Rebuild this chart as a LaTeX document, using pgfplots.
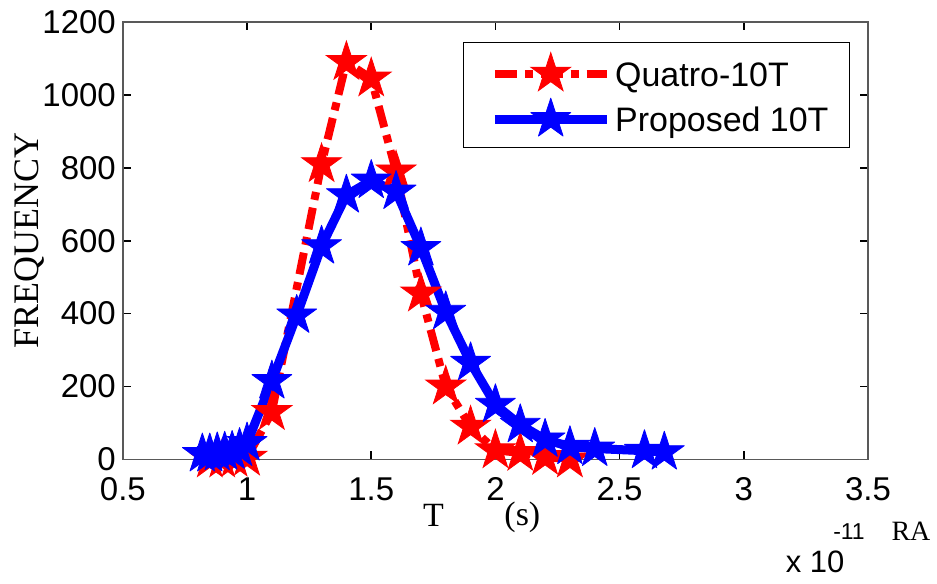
\documentclass[border=0pt]{standalone}
\usepackage{fontspec}
\setmainfont{Liberation Sans}
\newfontfamily\serif{Liberation Serif}
\newfontfamily\sans{Liberation Sans}
\usepackage{pgfplots}
\pgfplotsset{compat=1.18}
\usetikzlibrary{calc}

% filled five-pointed star, like MATLAB's pentagram marker
\pgfdeclareplotmark{pentagram}{%
  \pgfpathmoveto{\pgfpointpolar{90}{\pgfplotmarksize}}%
  \pgfpathlineto{\pgfpointpolar{126}{0.382\pgfplotmarksize}}%
  \pgfpathlineto{\pgfpointpolar{162}{\pgfplotmarksize}}%
  \pgfpathlineto{\pgfpointpolar{198}{0.382\pgfplotmarksize}}%
  \pgfpathlineto{\pgfpointpolar{234}{\pgfplotmarksize}}%
  \pgfpathlineto{\pgfpointpolar{270}{0.382\pgfplotmarksize}}%
  \pgfpathlineto{\pgfpointpolar{306}{\pgfplotmarksize}}%
  \pgfpathlineto{\pgfpointpolar{342}{0.382\pgfplotmarksize}}%
  \pgfpathlineto{\pgfpointpolar{18}{\pgfplotmarksize}}%
  \pgfpathlineto{\pgfpointpolar{54}{0.382\pgfplotmarksize}}%
  \pgfpathclose
  \pgfusepathqfillstroke
}

\pgfplotstableread{
x     y
0.85  0
0.90  0
0.95  2
1.00  5
1.10  130
1.30  810
1.40  1090
1.50  1045
1.60  790
1.70  455
1.80  200
1.90  90
2.00  25
2.10  18
2.20  7
2.30  0
}\quatro

\pgfplotstableread{
x     y
0.82  15
0.85  15
0.88  18
0.91  20
0.94  22
0.97  30
1.00  45
1.10  215
1.20  395
1.30  585
1.40  725
1.50  765
1.60  735
1.70  580
1.80  405
1.90  265
2.00  150
2.10  95
2.20  55
2.30  35
2.40  30
2.60  24
2.68  20
}\proposed

\begin{document}
\begin{tikzpicture}
\begin{axis}[
    name=ax,
    scale only axis,
    width=373pt, height=219pt,
    xmin=0.5, xmax=3.5,
    ymin=0, ymax=1200,
    xtick={0.5,1,1.5,2,2.5,3,3.5},
    ytick={0,200,400,600,800,1000,1200},
    /pgf/number format/1000 sep={},
    /pgf/number format/assume math mode=true,
    tick label style={font=\fontsize{16.5}{19}\selectfont},
    xticklabel style={yshift=-5.5pt},
    tick align=inside,
    major tick length=4pt,
    tick style={black, line width=0.8pt},
    axis line style={draw=black!65, line width=0.7pt},
    clip=false,
    ylabel={\serif FREQUENCY},
    ylabel style={at={(axis description cs:-0.125,0.5)}, anchor=center,
                  font=\fontsize{18}{20}\selectfont},
    legend style={at={(0.976,0.954)}, anchor=north east,
                  draw=black, line width=0.6pt,
                  font=\fontsize{17}{20}\selectfont,
                  inner xsep=8.5pt, inner ysep=5pt, row sep=3pt,
                  nodes={inner sep=2pt, text height=13.5pt, text depth=1pt},
                  /tikz/every even column/.append style={column sep=3.5pt}},
    legend cell align=left,
    legend image code/.code={
        \path (-5pt,0pt);
        \draw[#1, mark repeat=2, mark phase=2]
            plot coordinates {(0pt,0pt) (28pt,0pt) (56pt,0pt)};
    },
]
\addplot[red, line width=4pt, line cap=butt,
         dash pattern=on 11pt off 4pt on 4pt off 4pt,
         mark=pentagram, mark size=10.5pt,
         mark options={solid, fill=red, draw=red, line width=0.4pt}]
    table[x=x, y=y] {\quatro};
\addlegendentry{Quatro-10T}

\addplot[blue, line width=4.5pt, line join=round,
         mark=pentagram, mark size=10.5pt,
         mark options={solid, fill=blue, draw=blue, line width=0.4pt}]
    table[x=x, y=y] {\proposed};
\addlegendentry{Proposed 10T}
\end{axis}

% stray MATLAB label pieces below the axis
\node[font=\serif\fontsize{17}{19}\selectfont] at ([shift={(155.5pt,-28pt)}]ax.south west) {T};
\node[font=\serif\fontsize{17}{19}\selectfont] at ([shift={(200pt,-29pt)}]ax.south west) {(s)};
\node[font=\sans\fontsize{11.5}{13}\selectfont] at ([shift={(363.5pt,-36pt)}]ax.south west) {-11};
\node[font=\serif\fontsize{14}{16}\selectfont] at ([shift={(394.5pt,-36pt)}]ax.south west) {RA};
\node[font=\sans\fontsize{15.5}{17}\selectfont] at ([shift={(346.5pt,-51.5pt)}]ax.south west) {x 10};

% page size: 937 x 584 in the reference, at half a point per pixel
\path ([shift={(-61.5pt,-62pt)}]ax.south west) rectangle ++(468.5pt,292pt);
\end{tikzpicture}
\end{document}
